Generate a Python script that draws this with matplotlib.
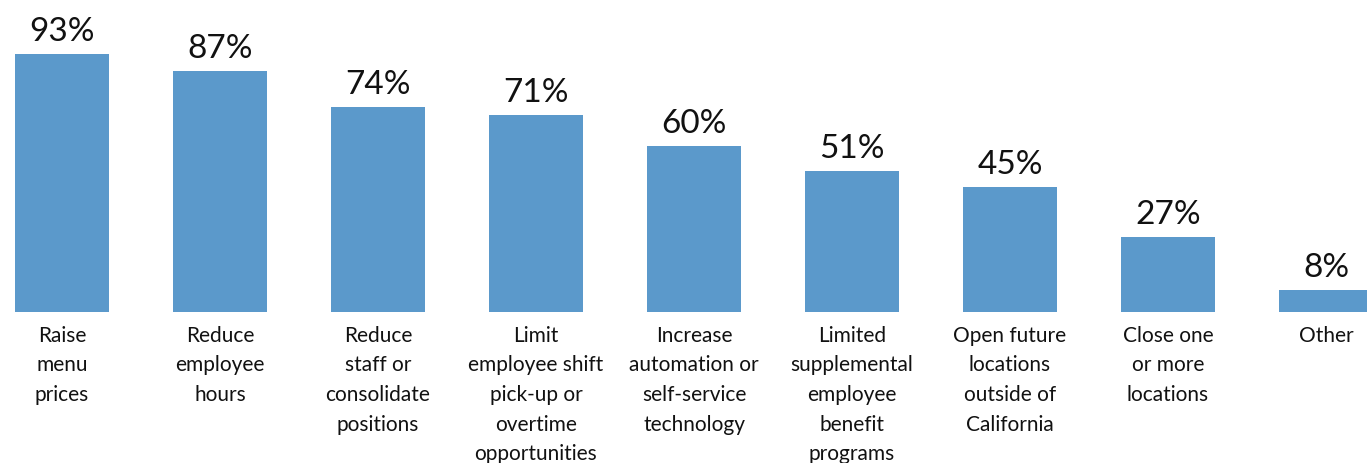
import matplotlib
matplotlib.use("Agg")
import matplotlib.pyplot as plt

categories = [
    "Raise\nmenu\nprices",
    "Reduce\nemployee\nhours",
    "Reduce\nstaff or\nconsolidate\npositions",
    "Limit\nemployee shift\npick-up or\novertime\nopportunities",
    "Increase\nautomation or\nself-service\ntechnology",
    "Limited\nsupplemental\nemployee\nbenefit\nprograms",
    "Open future\nlocations\noutside of\nCalifornia",
    "Close one\nor more\nlocations",
    "Other",
]
values = [93, 87, 74, 71, 60, 51, 45, 27, 8]

BAR_COLOR = "#5B99CB"
FONT = ["Lato", "DejaVu Sans"]

fig = plt.figure(figsize=(13.67, 4.63), dpi=100)
ax = fig.add_axes([0, 0, 1, 1])
xs = list(range(len(values)))
ax.bar(xs, values, width=0.6, color=BAR_COLOR)

for x, v, c in zip(xs, values, categories):
    ax.annotate(f"{v}%", (x, v), xytext=(0, 5), textcoords="offset points",
                ha="center", va="bottom", fontsize=24, family=FONT,
                color="#111111")
    ax.annotate(c, (x, 0), xytext=(0, -10), textcoords="offset points",
                ha="center", va="top", fontsize=15, family=FONT, color="#111111",
                linespacing=1.6)

ax.set_xlim(-0.392, 8.259)
ax.set_ylim(-54.5, 112.6)
ax.axis("off")
fig.savefig("out.png", dpi=100)
